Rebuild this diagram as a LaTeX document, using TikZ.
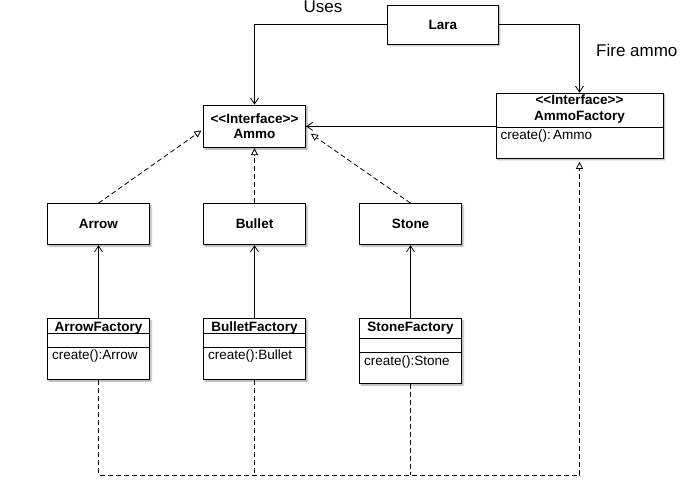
\documentclass[tikz,border=0pt]{standalone}
\usepackage{fontspec}
\setmainfont{Liberation Sans}
\usetikzlibrary{positioning,arrows.meta,shadows.blur}
\newcommand{\umlstereo}[1]{{<}{<}#1{>}{>}}
\newcommand{\umlfactory}[6]{\node[umlbox, #2] (#1) {};\node[umltitle] (#1-t) at ([yshift=-8.2pt]#1.north) {#3};\draw[umlline] ([yshift=-#5]#1.north west) -- ([yshift=-#5]#1.north east);\draw[umlline] ([yshift=-#6]#1.north west) -- ([yshift=-#6]#1.north east);\node[umltext, anchor=north west] (#1-m) at ([xshift=5pt,yshift=-#6-3pt]#1.north west) {#4};}
\tikzset{umlbox/.style={draw, line width=1pt, fill=white, blur shadow={shadow xshift=1.5pt, shadow yshift=-1.5pt, shadow blur radius=1.5pt, shadow opacity=35}, minimum width=102pt, minimum height=41pt, inner sep=0pt, align=center, font=\fontsize{13.5}{15.5}\selectfont\bfseries}}
\tikzset{umlline/.style={line width=1pt}}
\tikzset{umltext/.style={inner sep=0pt, text height=9.6pt, text depth=0pt, font=\fontsize{13.5}{15}\selectfont}}
\tikzset{umltitle/.style={umltext, font=\fontsize{13.5}{15}\selectfont\bfseries}}
\tikzset{umlnote/.style={inner sep=0pt, font=\fontsize{17}{20}\selectfont}}
\tikzset{usesarrow/.style={-{Straight Barb[length=6pt,width=8pt]}, line width=0.8pt}}
\tikzset{umldash/.style={line width=0.8pt, dash pattern=on 5pt off 3pt}}
\tikzset{realizes/.style={umldash, -{Triangle[open,length=7pt,width=7pt]}}}

\begin{document}
\begin{tikzpicture}[x=1pt, y=-1pt]
\useasboundingbox (0,0) rectangle (697,482);
% client and interfaces
\node[umlbox, minimum width=111pt, minimum height=39pt] (lara) at (442.8,24.6) {Lara};
\node[umlbox, minimum height=42.5pt] (ammo) at (254.5,126.4) {\umlstereo{Interface}\\Ammo};
\node[umlbox, minimum width=167pt, minimum height=65pt] (ammof) at (579.5,125.8) {};
\node[inner sep=0pt, align=center, font=\fontsize{13.5}{16}\selectfont\bfseries] (ammof-t) at ([yshift=-16pt]ammof.north) {\umlstereo{Interface}\\AmmoFactory};
\draw[umlline] ([yshift=-34.4pt]ammof.north west) -- ([yshift=-34.4pt]ammof.north east);
\node[umltext, anchor=north west] (ammof-m) at ([xshift=5pt,yshift=-37pt]ammof.north west) {create():\,Ammo};
\node[umlnote, anchor=base] (usesnote) at (323,12) {Uses};
\node[umlnote, anchor=base west] (firenote) at (596,56) {Fire ammo};
% products
\node[umlbox, below=55pt of ammo] (bullet) {Bullet};
\node[umlbox, left=53pt of bullet] (arrow) {Arrow};
\node[umlbox, right=53pt of bullet] (stone) {Stone};
% factories
\umlfactory{arrow-fac}{below=73pt of arrow, minimum height=61pt}{ArrowFactory}{create():Arrow}{15.7pt}{29pt}
\umlfactory{bullet-fac}{below=73pt of bullet, minimum height=61pt}{BulletFactory}{create():Bullet}{15.7pt}{29pt}
\umlfactory{stone-fac}{below=73pt of stone, minimum height=65pt}{StoneFactory}{create():Stone}{20pt}{34.5pt}
\draw[usesarrow] (lara.west) -| (ammo.north);
\draw[usesarrow] (lara.east) -| (ammof.north);
\draw[usesarrow] (ammof.west |- ammo.east) -- (ammo.east);
\draw[realizes, shorten >=2pt] (arrow.north) -- ([yshift=-3pt]ammo.west);
\draw[realizes] (bullet.north) -- (ammo.south);
\draw[realizes, shorten >=6pt] (stone.north) -- ([yshift=-4pt]ammo.east);
\draw[usesarrow] (arrow-fac.north) -- (arrow.south);
\draw[usesarrow] (bullet-fac.north) -- (bullet.south);
\draw[usesarrow] (stone-fac.north) -- (stone.south);
\path (arrow-fac.south) ++(0,95) coordinate (bus);
\draw[realizes, shorten >=3pt] (arrow-fac.south) -- (bus) -| (ammof.south);
\draw[umldash] (bullet-fac.south) -- (bullet-fac.south |- bus);
\draw[umldash] (stone-fac.south) -- (stone-fac.south |- bus);
\end{tikzpicture}
\end{document}
